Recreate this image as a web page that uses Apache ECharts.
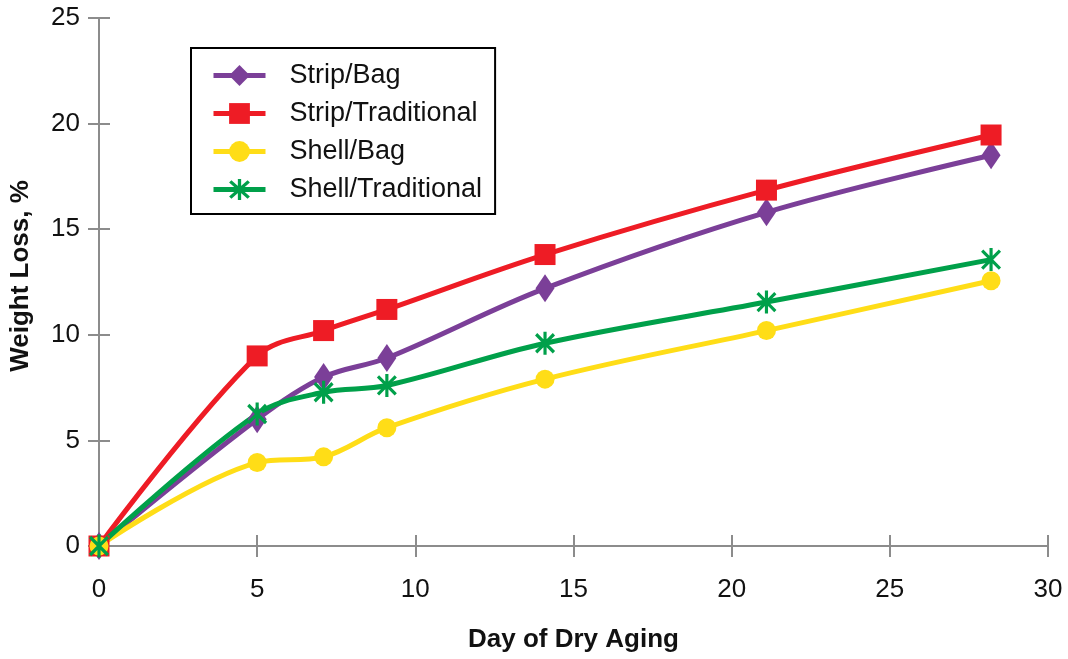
<!DOCTYPE html>
<html>
<head>
<meta charset="utf-8">
<script src="https://cdn.jsdelivr.net/npm/echarts@6/dist/echarts.min.js"></script>
<style>html,body{margin:0;padding:0;background:#fff}#c{width:1068px;height:659px}</style>
</head>
<body>
<div id="c"></div>
<script>
const days = [0, 5, 7.1, 9.1, 14.1, 21.1, 28.2];
const stripBag = [0, 6.0, 8.0, 8.9, 12.2, 15.8, 18.5];
const stripTraditional = [0, 9.0, 10.2, 11.2, 13.8, 16.85, 19.46];
const shellBag = [0, 3.95, 4.22, 5.6, 7.9, 10.2, 12.56];
const shellTraditional = [0, 6.25, 7.28, 7.6, 9.6, 11.55, 13.56];
const seriesNames = ['Strip/Bag', 'Strip/Traditional', 'Shell/Bag', 'Shell/Traditional'];
const xTicks = [0, 5, 10, 15, 20, 25, 30];
const yTicks = [0, 5, 10, 15, 20, 25];

const asterisk = 'path://M-1.6,-11.5 L1.6,-11.5 L1.6,11.5 L-1.6,11.5 Z M-10.13,-7.87 L-7.87,-10.13 L10.13,7.87 L7.87,10.13 Z M-7.87,10.13 L-10.13,7.87 L7.87,-10.13 L10.13,-7.87 Z';

function pairs(vals){ return days.map((d,i)=>[d, vals[i]]); }

const font = '"Liberation Sans", Arial, Helvetica, sans-serif';
const axisColor = '#8c8c8c';

function mkSeries(name, vals, color, symbol, size){
  return {
    name, type: 'line', data: pairs(vals), smooth: 0.35,
    symbol, symbolSize: size,
    lineStyle: {color, width: 5},
    itemStyle: {color, opacity: 1},
    emphasis: {disabled: true},
    animation: false
  };
}

const baseX = {type:'value', min:0, max:30, interval:5, gridIndex:0};
const baseY = {type:'value', min:0, max:25, interval:5, gridIndex:0};

const chart = echarts.init(document.getElementById('c'));
chart.setOption({
  backgroundColor: '#fff',
  animation: false,
  grid: {left: 99, right: 20, top: 18, bottom: 113, containLabel: false},
  legend: {
    orient: 'vertical', left: 191, top: 48,
    borderColor: '#000', borderWidth: 2,
    padding: [14, 13, 11, 20],
    itemWidth: 52, itemHeight: 26, itemGap: 11,
    lineStyle: {width: 5},
    data: seriesNames,
    textStyle: {fontFamily: font, fontSize: 27, color: '#111', padding: [0,0,0,19]}
  },
  xAxis: [
    Object.assign({}, baseX, {
      position: 'bottom',
      name: 'Day of Dry Aging', nameLocation: 'middle', nameGap: 81,
      nameTextStyle: {fontFamily: font, fontSize: 26, fontWeight: 'bold', color: '#111'},
      axisLine: {show: true, onZero: false, lineStyle: {color: axisColor, width: 2}},
      axisTick: {show: true, inside: false, length: 11, lineStyle: {color: axisColor, width: 2}},
      axisLabel: {fontFamily: font, fontSize: 26, color: '#111', margin: 31,
        formatter: v => xTicks.includes(v) ? String(v) : ''},
      splitLine: {show: false}
    }),
    Object.assign({}, baseX, {
      position: 'bottom',
      axisLine: {show: false, onZero: false},
      axisTick: {show: true, inside: true, length: 11, lineStyle: {color: axisColor, width: 2}},
      axisLabel: {show: false},
      splitLine: {show: false}
    })
  ],
  yAxis: [
    Object.assign({}, baseY, {
      position: 'left',
      name: 'Weight Loss, %', nameLocation: 'middle', nameGap: 65,
      nameTextStyle: {fontFamily: font, fontSize: 26, fontWeight: 'bold', color: '#111', padding: [0,0,0,12]},
      axisLine: {show: true, onZero: false, lineStyle: {color: axisColor, width: 2}},
      axisTick: {show: true, inside: false, length: 11, lineStyle: {color: axisColor, width: 2}},
      axisLabel: {fontFamily: font, fontSize: 26, color: '#111', margin: 19,
        formatter: v => yTicks.includes(v) ? String(v) : ''},
      splitLine: {show: false}
    }),
    Object.assign({}, baseY, {
      position: 'left',
      axisLine: {show: false, onZero: false},
      axisTick: {show: true, inside: true, length: 11, lineStyle: {color: axisColor, width: 2}},
      axisLabel: {show: false},
      splitLine: {show: false}
    })
  ],
  series: [
    mkSeries(seriesNames[0], stripBag, '#7B3F98', 'diamond', [19, 28]),
    mkSeries(seriesNames[1], stripTraditional, '#EE1C25', 'rect', 21),
    mkSeries(seriesNames[2], shellBag, '#FFDD17', 'circle', 19),
    mkSeries(seriesNames[3], shellTraditional, '#00A04A', asterisk, [20, 23])
  ]
});
</script>
</body>
</html>
